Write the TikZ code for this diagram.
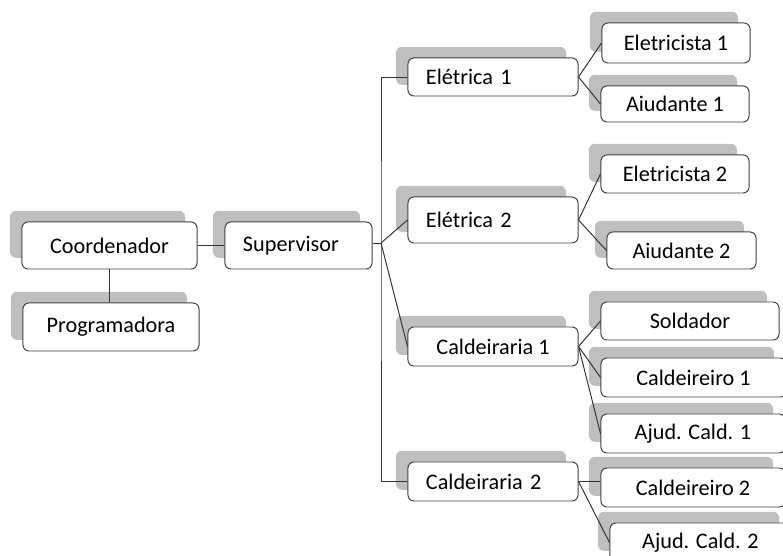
\documentclass[tikz,border=0pt]{standalone}
\usepackage{fontspec}
\setmainfont{Carlito}
\usetikzlibrary{shadows}
\tikzset{
  cargo/.style={draw=black!75, line width=0.7pt, rounded corners=0.15cm, fill=white,
    inner sep=0pt, font=\fontsize{15.8}{18}\selectfont,
    general shadow={fill=black!25, shadow xshift=-0.3cm, shadow yshift=0.28cm}},
  esq/.style={align=left, inner xsep=0.45cm, text width=#1},
  lig/.style={draw=black!80, line width=0.7pt}
}
\begin{document}
\begin{tikzpicture}[x=0.025cm, y=-0.025cm]
\useasboundingbox (0,0) rectangle (783,556);
\clip (0,0) rectangle (783,556);
\node[cargo, minimum width=4.375cm, minimum height=1.175cm] (coord) at (109.5,245.5){Coordenador};
\node[cargo, minimum width=4.4cm, minimum height=1.2cm] (prog) at (111,327){Programadora};
\draw[lig](coord.south) -- (coord.south |- prog.north);
\node[cargo, esq=2.775cm, minimum height=1.175cm] (sup) at (298.5,245.5){Supervisor};
\draw[lig](coord.east) -- (sup.west |- coord.east);
\coordinate (jun) at (381,243);
\draw[lig](sup.east |- jun) -- (jun);
\node[cargo, esq=3.35cm, minimum height=0.95cm] (el1) at (493,77){Elétrica 1};
\node[cargo, esq=3.35cm, minimum height=1.15cm] (el2) at (493,220){Elétrica 2};
\node[cargo, minimum width=4.25cm, minimum height=0.975cm] (cal1) at (493,346.5){Caldeiraria 1};
\node[cargo, esq=3.35cm, minimum height=0.975cm] (cal2) at (493,481.5){Caldeiraria 2};
\draw[lig](el1.west) -| (jun) |- (cal2.west);
\draw[lig](jun) -- (el2.west);
\draw[lig](jun) -- (cal1.west);
\node[cargo, minimum width=3.7cm, minimum height=1cm] (elet1) at (676,43){Eletricista 1};
\node[cargo, minimum width=3.7cm, minimum height=0.9cm] (aiu1) at (675,104){Aiudante 1};
\draw[lig](el1.east) -- (elet1.west);
\draw[lig](el1.east) -- (aiu1.west);
\node[cargo, minimum width=3.7cm, minimum height=0.95cm] (elet2) at (675,174){Eletricista 2};
\node[cargo, minimum width=3.725cm, minimum height=0.925cm] (aiu2) at (681.5,250.5){Aiudante 2};
\draw[lig](el2.east) -- (elet2.west);
\draw[lig](el2.east) -- (aiu2.west);
\node[cargo, minimum width=4.45cm, minimum height=0.95cm] (sold) at (690,321){Soldador};
\node[cargo, minimum width=4.625cm, minimum height=0.975cm] (caldo1) at (693.5,377.5){Caldeireiro 1};
\node[cargo, minimum width=4.6cm, minimum height=0.975cm] (ajud1) at (693,433.5){Ajud. Cald. 1};
\draw[lig](cal1.east) -- (sold.west);
\draw[lig](cal1.east) -- (caldo1.west);
\draw[lig](cal1.east) -- (ajud1.west);
\node[cargo, minimum width=4.6cm, minimum height=0.975cm] (caldo2) at (693,487.5){Caldeireiro 2};
\node[cargo, minimum width=4.525cm, minimum height=0.975cm] (ajud2) at (700.5,542.5){Ajud. Cald. 2};
\draw[lig](cal2.east) -- (cal2.east -| caldo2.west);
\draw[lig](cal2.east) -- (ajud2.west);
\end{tikzpicture}
\end{document}
